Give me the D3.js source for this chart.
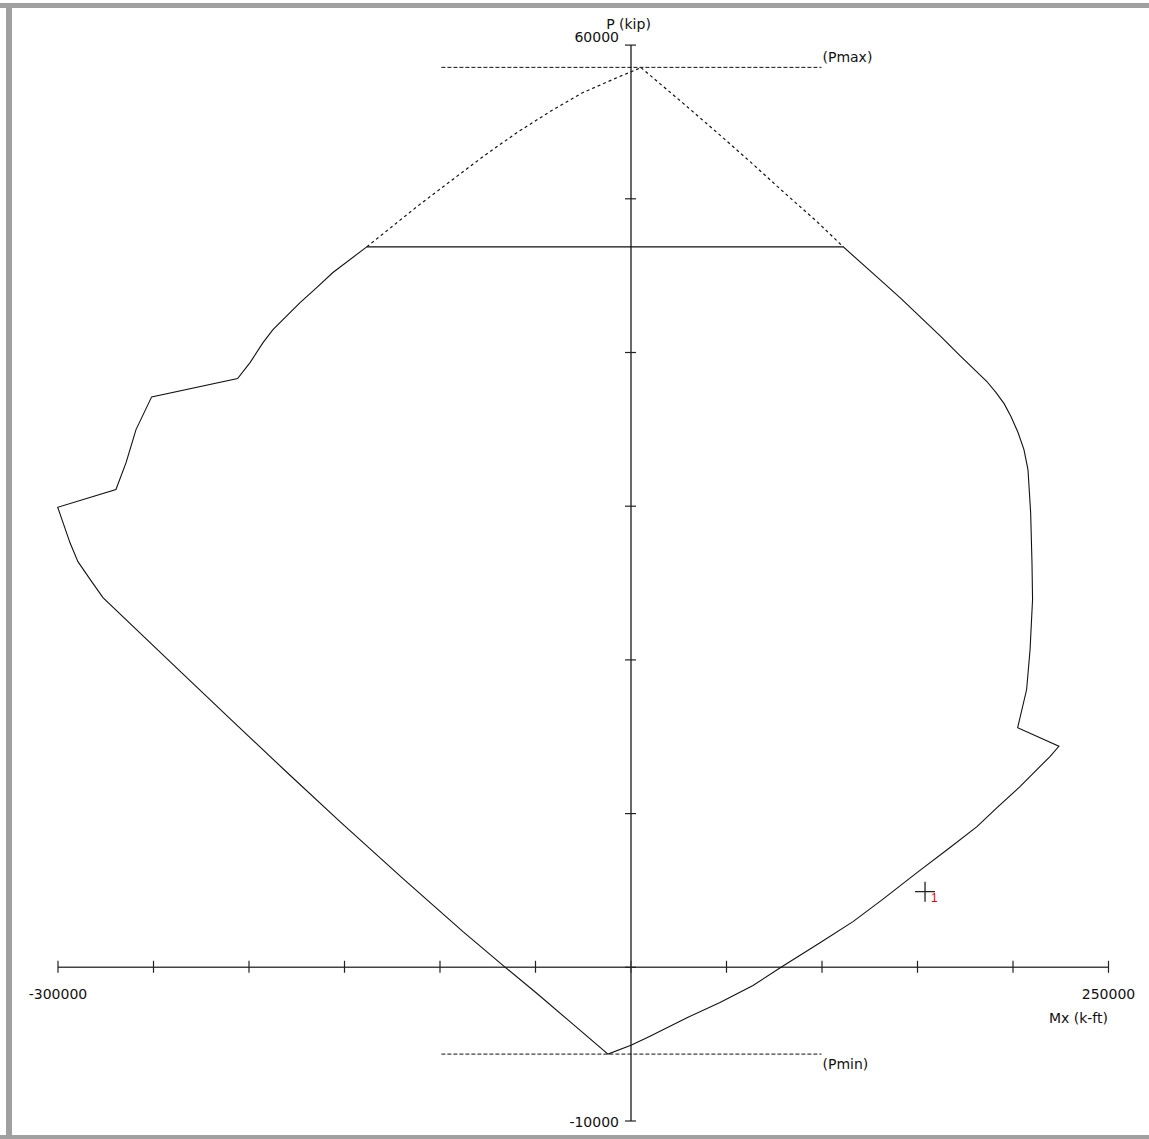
<!DOCTYPE html>
<html>
<head>
<meta charset="utf-8">
<script src="https://cdn.jsdelivr.net/npm/d3@7"></script>
<style>
  html, body { margin: 0; padding: 0; background: #fff; }
  svg { display: block; }
</style>
</head>
<body>
<div id="chart"></div>
<script>
// axis ticks
var mxTicks = [-300000, -250000, -200000, -150000, -100000, -50000, 0, 50000, 100000, 150000, 200000, 250000];
var pTicks = [60000, 50000, 40000, 30000, 20000, 10000, 0, -10000];

// interaction diagram outline (Mx in k-ft, P in kip), closed by the 0.8 cap
var diagramM = [-138100, -155800, -164300, -173000, -187200, -192400, -199200, -205700,
  -250700, -258900, -264100, -269400, -299900, -297100, -293500, -289300, -282100, -276200,
  -241100, -209700, -179800, -152100, -119100, -87700, -65700, -48950, -31680, -11780,
  260, 10210, 29580, 46860, 64140, 78800, 99220, 116500, 132200, 150000, 167300, 181400,
  191900, 203900, 219600, 224300, 202700, 207400, 209200, 210500, 210200, 209500, 208100,
  206000, 202900, 199200, 195600, 191400, 186600, 172500, 162000, 141100, 130600, 111400, -138100];
var diagramP = [46840, 45170, 44190, 43210, 41460, 40610, 39310, 38270,
  37080, 34950, 32800, 31050, 29900, 28900, 27600, 26360, 25060, 24020,
  19860, 16150, 12640, 9450, 5740, 2290, -20, -1740, -3570, -5680,
  -5110, -4520, -3310, -2330, -1220, -30, 1570, 2940, 4400, 6130, 7760, 9120,
  10360, 11720, 13680, 14350, 15560, 18040, 20640, 23890, 26300, 29550, 32350,
  33650, 34760, 35800, 36640, 37360, 38080, 39770, 41070, 43540, 44710, 46840, 46840];

// dashed branches above the cap
var dashLeftM = [-138100, -111780, -94500, -77230, -59420, -42150, -24870, -7070, 5500];
var dashLeftP = [46840, 49460, 51090, 52710, 54280, 55640, 56880, 57850, 58500];
var dashRightM = [5500, 27490, 45290, 62570, 79840, 97640, 111400];
var dashRightP = [58500, 56190, 54280, 52390, 50440, 48480, 46840];

var pMax = 58520;
var pMin = -5680;
var limitSpan = [-99000, 100000];

// applied load
var loadM = [154200];
var loadP = [4890];
var loadLabel = ['1'];

var width = 1149, height = 1139;
var font = "'DejaVu Sans', Verdana, sans-serif";
var fontSize = 14;
var axisColor = '#444';
var lineColor = '#111';

var svg = d3.select('#chart')
  .append('svg')
  .attr('width', width)
  .attr('height', height);

// window frame
svg.append('rect').attr('x', 0).attr('y', 3).attr('width', width).attr('height', 5).attr('fill', '#a0a0a0');
svg.append('rect').attr('x', 6).attr('y', 3).attr('width', 6).attr('height', height - 3).attr('fill', '#a0a0a0');
svg.append('rect').attr('x', 0).attr('y', 1135).attr('width', width).attr('height', 4).attr('fill', '#a0a0a0');

var x = d3.scaleLinear().domain([-300000, 250000]).range([57.5, 1108]);
var y = d3.scaleLinear().domain([-10000, 60000]).range([1120.5, 44.6]);

// x axis
var xEnds = [mxTicks[0], mxTicks[mxTicks.length - 1]];
var gx = svg.append('g')
  .attr('transform', 'translate(0,' + y(0) + ')')
  .call(d3.axisBottom(x)
    .tickValues(mxTicks)
    .tickSize(6)
    .tickSizeOuter(0)
    .tickPadding(16)
    .tickFormat(function (d) { return xEnds.indexOf(d) >= 0 ? d : ''; }));
gx.attr('font-family', font).attr('font-size', fontSize);
gx.select('.domain').attr('stroke', axisColor).attr('stroke-width', 1.6);
gx.selectAll('.tick line').attr('y1', -6).attr('y2', 6).attr('stroke', '#222').attr('stroke-width', 1.2);
gx.selectAll('.tick text').attr('fill', '#111');

// y axis
var yEnds = [pTicks[0], pTicks[pTicks.length - 1]];
var gy = svg.append('g')
  .attr('transform', 'translate(' + x(0) + ',0)')
  .call(d3.axisLeft(y)
    .tickValues(pTicks)
    .tickSize(6)
    .tickSizeOuter(0)
    .tickPadding(5.5)
    .tickFormat(function (d) { return yEnds.indexOf(d) >= 0 ? d : ''; }));
gy.attr('font-family', font).attr('font-size', fontSize);
gy.select('.domain').attr('stroke', axisColor).attr('stroke-width', 1.6);
gy.selectAll('.tick line').attr('x1', 5.5).attr('x2', -5.5).attr('stroke', '#222').attr('stroke-width', 1.2);
gy.selectAll('.tick text')
  .attr('fill', '#111')
  .attr('dy', function (d) { return d === pTicks[0] ? '-0.2em' : '0.45em'; });

// axis titles
svg.append('text')
  .attr('x', x(0) - 2).attr('y', 28.5)
  .attr('text-anchor', 'middle')
  .style('font-family', font).style('font-size', fontSize + 'px').attr('fill', '#111')
  .text('P (kip)');
svg.append('text')
  .attr('x', x(250000)).attr('y', 1023)
  .attr('text-anchor', 'end')
  .style('font-family', font).style('font-size', fontSize + 'px').attr('fill', '#111')
  .text('Mx (k-ft)');

// Pmax / Pmin limits
[[pMax, '(Pmax)', -5], [pMin, '(Pmin)', 15]].forEach(function (l) {
  svg.append('line')
    .attr('x1', x(limitSpan[0])).attr('x2', x(limitSpan[1]))
    .attr('y1', y(l[0])).attr('y2', y(l[0]))
    .attr('stroke', lineColor).attr('stroke-width', 1)
    .attr('stroke-dasharray', '4,2');
  svg.append('text')
    .attr('x', x(limitSpan[1]) + 1).attr('y', y(l[0]) + l[2])
    .style('font-family', font).style('font-size', fontSize + 'px').attr('fill', '#111')
    .text(l[1]);
});

var line = d3.line()
  .x(function (d) { return x(d[0]); })
  .y(function (d) { return y(d[1]); });

// dashed branches
[[dashLeftM, dashLeftP], [dashRightM, dashRightP]].forEach(function (s) {
  svg.append('path')
    .datum(d3.zip(s[0], s[1]))
    .attr('d', line)
    .attr('fill', 'none')
    .attr('stroke', lineColor).attr('stroke-width', 1.2)
    .attr('stroke-dasharray', '3,3');
});

// solid diagram
svg.append('path')
  .datum(d3.zip(diagramM, diagramP))
  .attr('d', line)
  .attr('fill', 'none')
  .attr('stroke', lineColor)
  .attr('stroke-width', 1.1)
  .attr('stroke-linejoin', 'miter');

// load point marker
var pts = svg.selectAll('g.load')
  .data(d3.zip(loadM, loadP, loadLabel))
  .enter().append('g')
  .attr('class', 'load')
  .attr('transform', function (d) { return 'translate(' + x(d[0]) + ',' + y(d[1]) + ')'; });
pts.append('path')
  .attr('d', 'M-10,0H10M0,-10V10')
  .attr('stroke', '#222').attr('stroke-width', 1.3);
pts.append('text')
  .attr('x', 6).attr('y', 10)
  .style('font-family', "'Liberation Sans', Arial, sans-serif")
  .style('font-size', '12px')
  .attr('fill', '#e00')
  .text(function (d) { return d[2]; });
</script>
</body>
</html>
